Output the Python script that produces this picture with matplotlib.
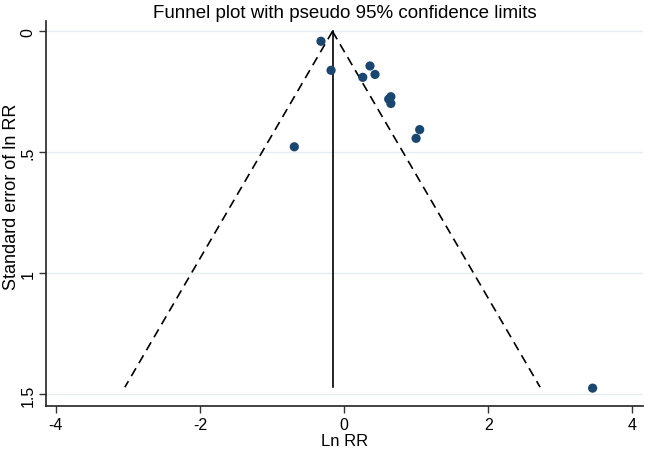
import numpy as np
from matplotlib import pyplot as plt

# study estimates (ln RR) and their standard errors
ln_rr = [-0.32, -0.18, 0.26, 0.36, 0.43, 0.62, 0.65, 0.65, 1.00, 1.05, -0.69, 3.45]
se_ln_rr = [0.041, 0.161, 0.190, 0.143, 0.178, 0.280, 0.270, 0.298, 0.442, 0.406, 0.477, 1.474]

pooled = -0.16      # fixed-effect pooled ln RR
se_max = 1.47       # funnel drawn down to the largest SE

x_ticks = [-4, -2, 0, 2, 4]
y_ticks = [0, 0.5, 1, 1.5]
y_ticklabels = ["0", ".5", "1", "1.5"]

plt.rcParams["font.family"] = ["Liberation Sans", "DejaVu Sans"]

fig = plt.figure(figsize=(6.45, 4.52), dpi=100)
ax = fig.add_axes([0.072, 0.100, 0.925, 0.852])

# light horizontal gridlines like Stata's s2color scheme
for yt in y_ticks:
    ax.axhline(yt, color="#e3edf0", linewidth=1.0, zorder=0)

# pseudo 95% confidence limits
se_line = np.array([0.0, se_max])
ax.plot(pooled - 1.96 * se_line, se_line, color="black", linewidth=1.2,
        linestyle=(0, (5.5, 3.5)), zorder=2)
ax.plot(pooled + 1.96 * se_line, se_line, color="black", linewidth=1.2,
        linestyle=(0, (5.5, 3.5)), zorder=2)
ax.plot([pooled, pooled], [0, se_max], color="black", linewidth=1.2, zorder=2)

ax.scatter(ln_rr, se_ln_rr, s=44, color="#1a476f", edgecolors="none", zorder=3)

ax.set_xlim(-4.13, 4.15)
ax.set_ylim(1.547, -0.044)

ax.set_xticks(x_ticks)
ax.set_xticklabels([str(v) for v in x_ticks], fontsize=11.5)
ax.set_yticks(y_ticks)
ax.set_yticklabels(y_ticklabels, fontsize=11.5, rotation=90, va="center")
ax.tick_params(axis="both", direction="out", length=5, width=1.0, color="#333333")
ax.tick_params(axis="y", pad=3)
ax.tick_params(axis="x", pad=3)

for side in ["top", "right"]:
    ax.spines[side].set_visible(False)
for side in ["left", "bottom"]:
    ax.spines[side].set_linewidth(1.2)
    ax.spines[side].set_color("#222222")

ax.set_xlabel("Ln RR", fontsize=12, labelpad=1)
ax.set_ylabel("Standard error of ln RR", fontsize=13)
ax.yaxis.set_label_coords(-0.045, 0.546)
ax.set_title("Funnel plot with pseudo 95% confidence limits", fontsize=13.5, pad=3)

fig.savefig("out.png", dpi=100, facecolor="white")
